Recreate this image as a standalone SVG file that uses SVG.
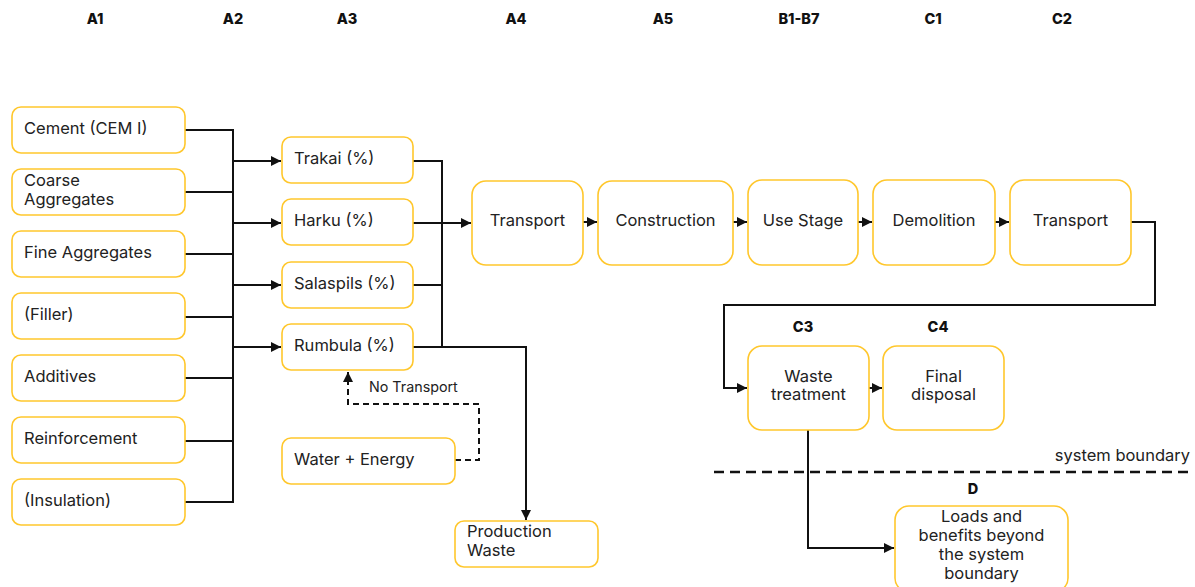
<svg xmlns="http://www.w3.org/2000/svg" width="1195" height="587" viewBox="0 0 1195 587">
<style>
.box{fill:#fff;stroke:#FFC72C;stroke-width:1.6}
.t{font-family:Inter,"Noto Sans",sans-serif;font-size:16.5px;fill:#222}
.c{text-anchor:middle}
.h{font-family:Inter,"Noto Sans",sans-serif;font-size:14.5px;font-weight:800;fill:#111;text-anchor:middle}
.ln{fill:none;stroke:#111;stroke-width:2}
.ds{fill:none;stroke:#111;stroke-width:2;stroke-dasharray:6 4}
.sb{fill:none;stroke:#111;stroke-width:2.5;stroke-dasharray:10 6}
</style>
<defs>
<marker id="ar" viewBox="0 0 10 10" refX="10" refY="5" markerWidth="5" markerHeight="5" orient="auto" markerUnits="strokeWidth">
<path d="M0,0 L10,5 L0,10 z" fill="#111"/>
</marker>
</defs>
<rect width="1195" height="587" fill="#fff"/>
<g id="headers">
<text class="h" x="95" y="24">A1</text>
<text class="h" x="233" y="24">A2</text>
<text class="h" x="347" y="24">A3</text>
<text class="h" x="516" y="24">A4</text>
<text class="h" x="663" y="24">A5</text>
<text class="h" x="799" y="24">B1-B7</text>
<text class="h" x="933" y="24">C1</text>
<text class="h" x="1062" y="24">C2</text>
<text class="h" x="803" y="332">C3</text>
<text class="h" x="938" y="332">C4</text>
<text class="h" x="973" y="494">D</text>
</g>
<g id="connectors">
<path class="ln" d="M185,130 H233 V502 H185"/>
<path class="ln" d="M185,192 H233 M185,254 H233 M185,317 H233 M185,378 H233 M185,441 H233"/>
<path class="ln" d="M233,161 H281" marker-end="url(#ar)"/>
<path class="ln" d="M233,223 H281" marker-end="url(#ar)"/>
<path class="ln" d="M233,285 H281" marker-end="url(#ar)"/>
<path class="ln" d="M233,347 H281" marker-end="url(#ar)"/>
<path class="ln" d="M413,161 H442 V347 H413 M413,285 H442"/>
<path class="ln" d="M413,223 H471" marker-end="url(#ar)"/>
<path class="ln" d="M442,347 H526 V520" marker-end="url(#ar)"/>
<path class="ds" d="M455,460 H479 V404 H348 V372" marker-end="url(#ar)"/>
<path class="ln" d="M583,222 H597" marker-end="url(#ar)"/>
<path class="ln" d="M733,222 H747" marker-end="url(#ar)"/>
<path class="ln" d="M858,222 H872" marker-end="url(#ar)"/>
<path class="ln" d="M995,222 H1009" marker-end="url(#ar)"/>
<path class="ln" d="M1131,222 H1155 V305 H724 V388 H747" marker-end="url(#ar)"/>
<path class="ln" d="M869,388 H882" marker-end="url(#ar)"/>
<path class="ln" d="M808,430 V548 H894" marker-end="url(#ar)"/>
<path class="sb" d="M714,472 H1191"/>
<text class="t" x="369" y="392" style="font-size:14.3px">No Transport</text>
<text class="t" x="1190" y="461" style="text-anchor:end">system boundary</text>
</g>
<g id="cement"><rect class="box" x="12" y="107" width="173" height="46" rx="9"/><text class="t" x="24" y="134">Cement (CEM I)</text></g>
<g id="coarse"><rect class="box" x="12" y="169" width="173" height="46" rx="9"/><text class="t" x="24" y="186">Coarse</text><text class="t" x="24" y="205">Aggregates</text></g>
<g id="fine"><rect class="box" x="12" y="231" width="173" height="46" rx="9"/><text class="t" x="24" y="258">Fine Aggregates</text></g>
<g id="filler"><rect class="box" x="12" y="293" width="173" height="46" rx="9"/><text class="t" x="24" y="320">(Filler)</text></g>
<g id="additives"><rect class="box" x="12" y="355" width="173" height="46" rx="9"/><text class="t" x="24" y="382">Additives</text></g>
<g id="reinforcement"><rect class="box" x="12" y="417" width="173" height="46" rx="9"/><text class="t" x="24" y="444">Reinforcement</text></g>
<g id="insulation"><rect class="box" x="12" y="479" width="173" height="46" rx="9"/><text class="t" x="24" y="506">(Insulation)</text></g>
<g id="trakai"><rect class="box" x="282" y="137" width="131" height="46" rx="9"/><text class="t" x="294" y="164">Trakai (%)</text></g>
<g id="harku"><rect class="box" x="282" y="199" width="131" height="46" rx="9"/><text class="t" x="294" y="226">Harku (%)</text></g>
<g id="salaspils"><rect class="box" x="282" y="262" width="131" height="46" rx="9"/><text class="t" x="294" y="289">Salaspils (%)</text></g>
<g id="rumbula"><rect class="box" x="282" y="324" width="131" height="46" rx="9"/><text class="t" x="294" y="351">Rumbula (%)</text></g>
<g id="water"><rect class="box" x="282" y="438" width="173" height="46" rx="9"/><text class="t" x="294" y="465">Water + Energy</text></g>
<g id="prodwaste"><rect class="box" x="455" y="521" width="143" height="46" rx="9"/><text class="t" x="467" y="537">Production</text><text class="t" x="467" y="556">Waste</text></g>
<g id="transportA4"><rect class="box" x="472" y="181" width="111" height="84" rx="14"/><text class="t c" x="527.5" y="226">Transport</text></g>
<g id="construction"><rect class="box" x="598" y="181" width="135" height="84" rx="14"/><text class="t c" x="665.5" y="226">Construction</text></g>
<g id="use"><rect class="box" x="748" y="180" width="110" height="85" rx="14"/><text class="t c" x="803" y="226">Use Stage</text></g>
<g id="demolition"><rect class="box" x="873" y="180" width="122" height="85" rx="14"/><text class="t c" x="934" y="226">Demolition</text></g>
<g id="transportC2"><rect class="box" x="1010" y="180" width="121" height="85" rx="14"/><text class="t c" x="1070.5" y="226">Transport</text></g>
<g id="wastetreat"><rect class="box" x="748" y="346" width="121" height="84" rx="14"/><text class="t c" x="808.5" y="382">Waste</text><text class="t c" x="808.5" y="400">treatment</text></g>
<g id="final"><rect class="box" x="883" y="346" width="121" height="84" rx="14"/><text class="t c" x="943.5" y="382">Final</text><text class="t c" x="943.5" y="400">disposal</text></g>
<g id="loads"><rect class="box" x="895" y="506" width="173" height="86" rx="14"/><text class="t c" x="981.5" y="522">Loads and</text><text class="t c" x="981.5" y="541">benefits beyond</text><text class="t c" x="981.5" y="560">the system</text><text class="t c" x="981.5" y="579">boundary</text></g>
</svg>
